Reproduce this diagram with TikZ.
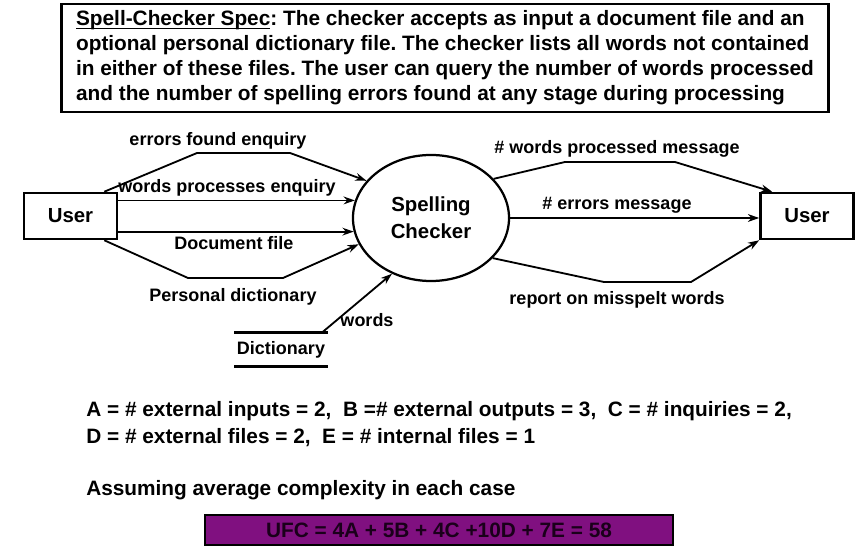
\documentclass[tikz,border=0pt]{standalone}
\usepackage{fontspec}
\setmainfont{Liberation Sans}
\usepackage{xcolor}
\usetikzlibrary{shapes.geometric,arrows.meta,positioning}
\definecolor{ufcpurple}{RGB}{128,16,128}
\definecolor{ufctext}{RGB}{26,0,26}

\begin{document}
\frenchspacing
\begin{tikzpicture}[
  x=0.025cm, y=-0.025cm,
  entity/.style={rectangle,draw=black,line width=1.8pt,minimum width=2.325cm,
                 minimum height=1.15cm,font=\bfseries\fontsize{14.5}{17}\selectfont},
  proc/.style  ={ellipse,draw=black,line width=1.6pt,minimum width=3.9cm,
                 minimum height=3.15cm,align=center,font=\bfseries\fontsize{14.5}{19}\selectfont},
  store/.style ={rectangle,minimum width=2.325cm,minimum height=0.825cm,inner sep=0pt,
                 font=\bfseries\fontsize{12.8}{15}\selectfont},
  arr/.style={-{Stealth[length=8pt,width=5.5pt]},line width=1.3pt},
  lab/.style={font=\bfseries\fontsize{12.8}{15}\selectfont,inner sep=0pt},
  body/.style={font=\bfseries\fontsize{14.8}{19.8}\selectfont,align=left,inner sep=0pt},
]
\useasboundingbox (0,0) rectangle (864,556);
\fill[white] (0,0) rectangle (864,556);

%% ─── Spec ────────────────────────────────────────────────────────────────────
\node[draw=black,line width=2pt,minimum width=19.15cm,minimum height=2.7cm,align=left,
      font=\bfseries\fontsize{14.8}{17.7}\selectfont] (spec) at (445,58)
  {\underline{\smash{Spell-Checker Spec}}: The checker accepts as input a document file and an\\
   optional personal dictionary file. The checker lists all words not contained\\
   in either of these files. The user can query the number of words processed\\
   and the number of spelling errors found at any stage during processing};

%% ─── Entities, process, store ────────────────────────────────────────────────
\node[entity] (userL) at (70.5,216) {User};
\node[proc]   (check) at (431,218)  {Spelling\\Checker};
\node[entity] (userR) at (807,216)  {User};
\node[store]  (dict)  at (281,349.5) {Dictionary};
\draw[line width=1.8pt] (dict.north west) -- (dict.north east);
\draw[line width=1.8pt] (dict.south west) -- (dict.south east);

%% ─── Inputs ──────────────────────────────────────────────────────────────────
\draw[arr] ([xshift=-0.35cm]userL.north east) -- (197,153) -- (290,153) -- (check.150);
\draw[arr] (userL.east |- check.167) -- (check.167);
\draw[arr] (userL.east |- check.190) -- (check.190);
\draw[arr] ([xshift=-0.35cm]userL.south east) -- (188,278) -- (283,278) -- (check.200);
\draw[arr] ([xshift=-0.15cm]dict.north east) -- (check.235);

\node[lab] (lErr)   at (218,141) {errors found enquiry};
\node[lab] (lWords) at (227,188) {words processes enquiry};
\node[lab] (lDoc)   at (234,243) {Document file};
\node[lab] (lPers)  at (233,297) {Personal dictionary};
\node[lab] (lDict)  at (367,320) {words};

%% ─── Outputs ─────────────────────────────────────────────────────────────────
\draw[arr] (check.32) -- (565,162) -- (675,162) -- ([xshift=0.325cm]userR.north west);
\draw[arr] (check.east) -- (check.east -| userR.west);
\draw[arr] (check.-33) -- (604,282) -- (691,282) -- (userR.south west);

\node[lab] (lWpm) at (617,149) {\# words processed message};
\node[lab] (lErm) at (617,205) {\# errors message};
\node[lab] (lRep) at (617,300) {report on misspelt words};

%% ─── Counts ──────────────────────────────────────────────────────────────────
\node[body,anchor=west] (counts) at (86,424)
  {A = \# external inputs = 2,\ \ B =\# external outputs = 3,\ \ C = \# inquiries = 2,\\
   D = \# external files = 2,\ \ E = \# internal files = 1};
\node[body,anchor=west] (assume) at (86,490) {Assuming average complexity in each case};
\node[rectangle,draw=black,line width=1.8pt,fill=ufcpurple,minimum width=11.7cm,
      minimum height=0.75cm,text=ufctext,font=\bfseries\fontsize{14.8}{17}\selectfont]
  (ufc) at (439,530) {UFC = 4A + 5B + 4C +10D + 7E = 58};

\end{tikzpicture}
\end{document}
